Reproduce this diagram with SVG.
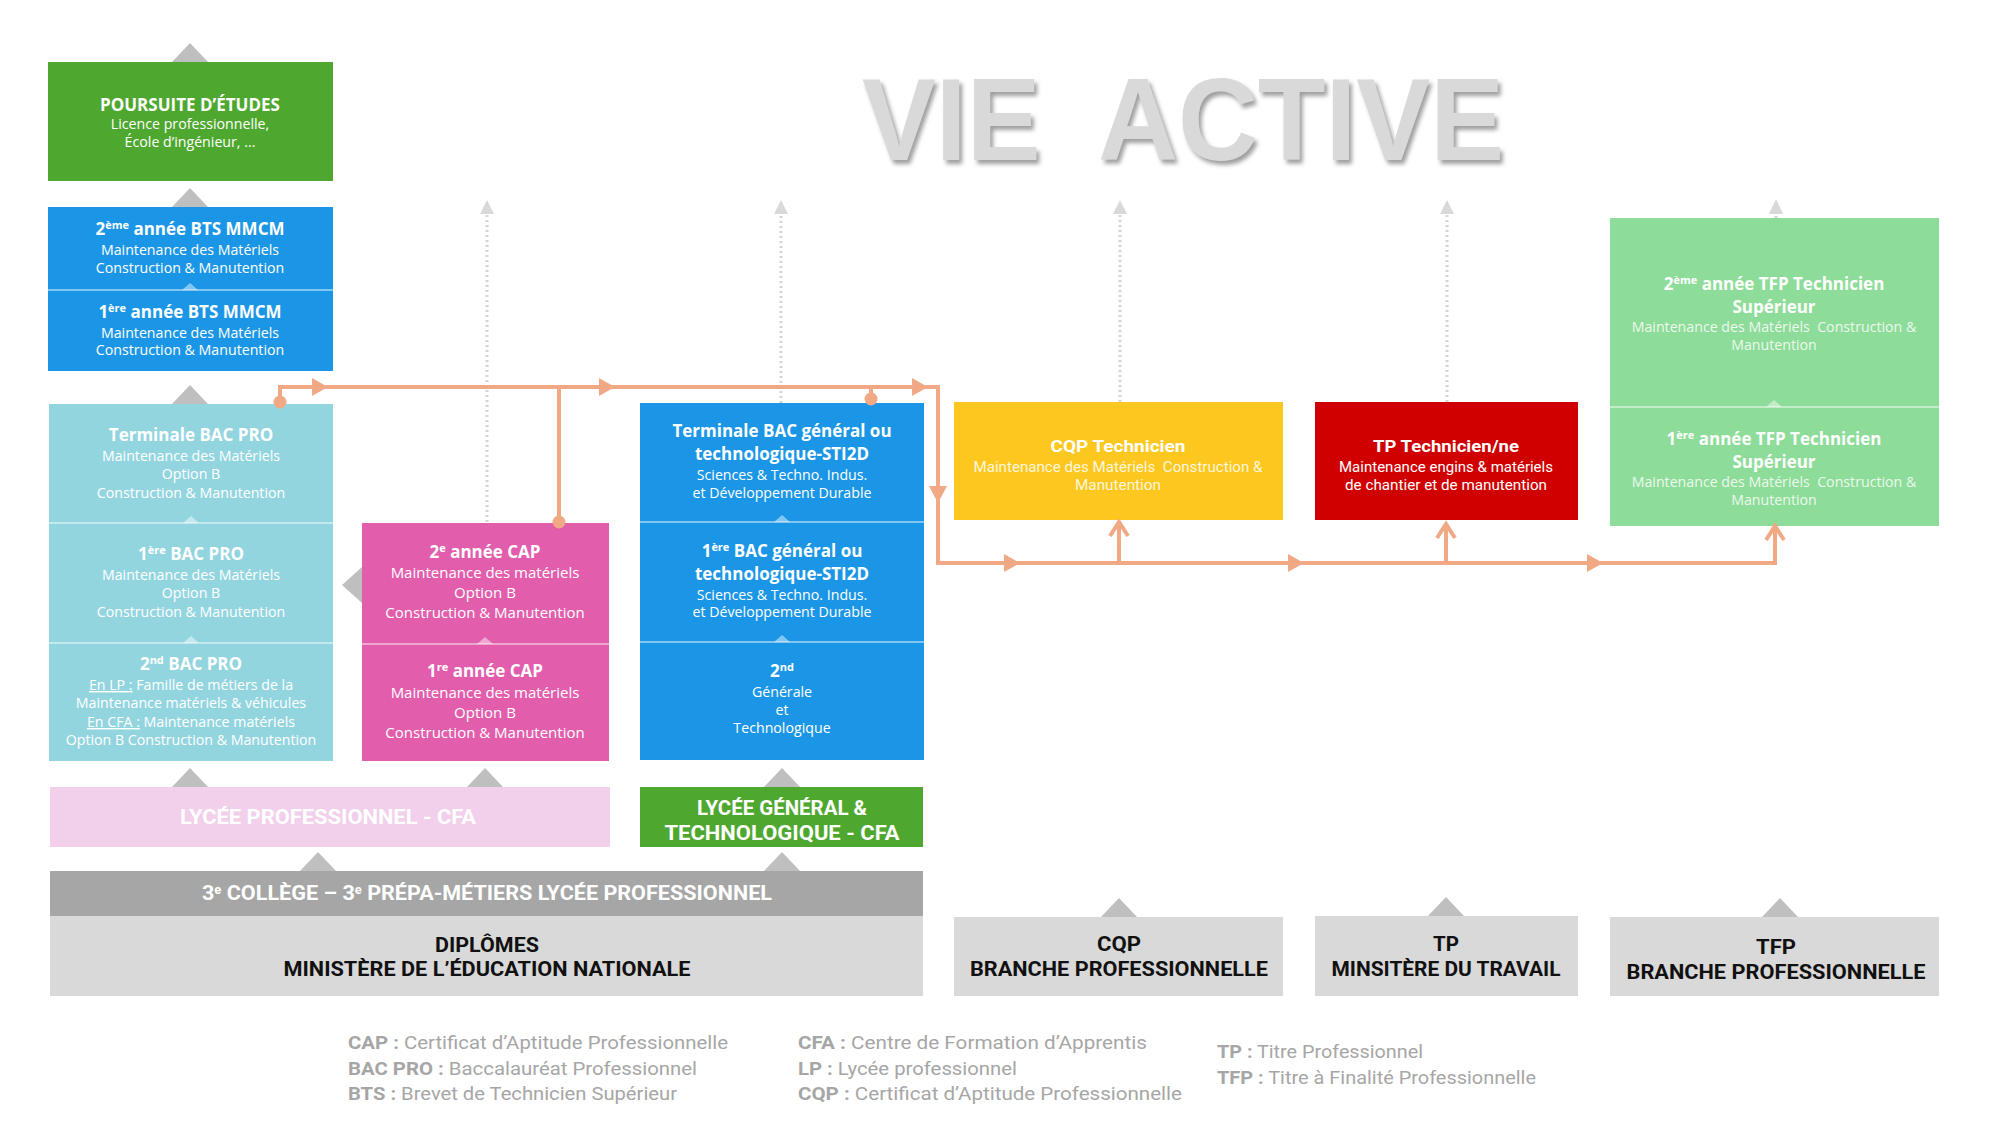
<svg xmlns="http://www.w3.org/2000/svg" width="2000" height="1125" viewBox="0 0 2000 1125">
<defs>
<style>
.t{font-family:"Open Sans","Liberation Sans",sans-serif;fill:#fff;text-anchor:middle}
.h{font-weight:700;font-size:17px}
.b{font-size:14.2px}
.c{font-size:15px}
.n{font-family:Roboto,"Liberation Sans",sans-serif;text-anchor:middle}
.nb{font-weight:700;font-size:20px}
.lg{font-family:Roboto,"Liberation Sans",sans-serif;font-size:19px;fill:#a6a6a6}
.tri{fill:#bfbfbf}
.lt{fill:#fff;fill-opacity:0.45}
.dv{stroke:#fff;stroke-opacity:0.45;stroke-width:2}
.or{stroke:#f1a985;stroke-width:4;fill:none}
.orf{fill:#f1a985}
.dot{stroke:#d4d4d4;stroke-width:3;stroke-dasharray:2 3;fill:none}
.dh{fill:#d9d9d9}
</style>
<filter id="sh" x="-5%" y="-10%" width="110%" height="130%">
<feDropShadow dx="3" dy="4" stdDeviation="2" flood-color="#7f7f7f" flood-opacity="0.75"/>
</filter>
</defs>
<rect width="2000" height="1125" fill="#fff"/>

<!-- Title -->
<text x="1183" y="160" font-family="'Liberation Sans',Arial,sans-serif" font-weight="700" font-size="116" fill="#d9d9d9" text-anchor="middle" textLength="642" lengthAdjust="spacingAndGlyphs" filter="url(#sh)">VIE&#160; ACTIVE</text>

<!-- gray triangles -->
<g id="chevrons">
<polygon class="tri" points="172,62 190,43 208,62"/>
<polygon class="tri" points="172,207 190,188 208,207"/>
<polygon class="tri" points="172,404 190,385 208,404"/>
<polygon class="tri" points="172,787 190,768 208,787"/>
<polygon class="tri" points="467,787 485,768 503,787"/>
<polygon class="tri" points="764,787 782,768 800,787"/>
<polygon class="tri" points="300,871 318,852 336,871"/>
<polygon class="tri" points="764,871 782,852 800,871"/>
<polygon class="tri" points="1101,917 1119,898 1137,917"/>
<polygon class="tri" points="1428,916 1446,897 1464,916"/>
<polygon class="tri" points="1762,917 1780,898 1798,917"/>
<polygon class="tri" points="342,585 362,567 362,603"/>
</g>

<g id="poursuite">
<rect x="48" y="62" width="285" height="119" fill="#4ea72e"/>
<text class="t h" x="190" y="111">POURSUITE D’ÉTUDES</text>
<text class="t b" x="190" y="129">Licence professionnelle,</text>
<text class="t b" x="190" y="147">École d’ingénieur, ...</text>
</g>

<g id="bts">
<rect x="48" y="207" width="285" height="164" fill="#1b96e6"/>
<line class="dv" x1="48" y1="290" x2="333" y2="290"/>
<polygon class="lt" points="182,290 190,283 198,290"/>
<text class="t h" x="190" y="235">2<tspan dy="-6" font-size="11">ème</tspan><tspan dy="6"> année BTS MMCM</tspan></text>
<text class="t b" x="190" y="255">Maintenance des Matériels</text>
<text class="t b" x="190" y="273">Construction &amp; Manutention</text>
<text class="t h" x="190" y="318">1<tspan dy="-6" font-size="11">ère</tspan><tspan dy="6"> année BTS MMCM</tspan></text>
<text class="t b" x="190" y="338">Maintenance des Matériels</text>
<text class="t b" x="190" y="355">Construction &amp; Manutention</text>
</g>

<g id="bacpro">
<rect x="49" y="404" width="284" height="357" fill="#93d5df"/>
<line class="dv" x1="49" y1="523" x2="333" y2="523"/>
<line class="dv" x1="49" y1="643" x2="333" y2="643"/>
<polygon class="lt" points="183,523 191,516 199,523"/>
<polygon class="lt" points="183,643 191,636 199,643"/>
<text class="t h" x="191" y="441">Terminale BAC PRO</text>
<text class="t b" x="191" y="461">Maintenance des Matériels</text>
<text class="t b" x="191" y="479">Option B</text>
<text class="t b" x="191" y="498">Construction &amp; Manutention</text>
<text class="t h" x="191" y="560">1<tspan dy="-6" font-size="11">ère</tspan><tspan dy="6"> BAC PRO</tspan></text>
<text class="t b" x="191" y="580">Maintenance des Matériels</text>
<text class="t b" x="191" y="598">Option B</text>
<text class="t b" x="191" y="617">Construction &amp; Manutention</text>
<text class="t h" x="191" y="670">2<tspan dy="-6" font-size="11">nd</tspan><tspan dy="6"> BAC PRO</tspan></text>
<text class="t b" x="191" y="690"><tspan text-decoration="underline">En LP :</tspan> Famille de métiers de la</text>
<text class="t b" x="191" y="708">Maintenance matériels &amp; véhicules</text>
<text class="t b" x="191" y="727"><tspan text-decoration="underline">En CFA :</tspan> Maintenance matériels</text>
<text class="t b" x="191" y="745">Option B Construction &amp; Manutention</text>
</g>

<g id="cap">
<rect x="362" y="523" width="247" height="238" fill="#e25dac"/>
<line class="dv" x1="362" y1="644" x2="609" y2="644"/>
<polygon class="lt" points="477,644 485,637 493,644"/>
<text class="t h" x="485" y="558">2<tspan dy="-6" font-size="11">e</tspan><tspan dy="6"> année CAP</tspan></text>
<text class="t c" x="485" y="578">Maintenance des matériels</text>
<text class="t c" x="485" y="598">Option B</text>
<text class="t c" x="485" y="618">Construction &amp; Manutention</text>
<text class="t h" x="485" y="677">1<tspan dy="-6" font-size="11">re</tspan><tspan dy="6"> année CAP</tspan></text>
<text class="t c" x="485" y="698">Maintenance des matériels</text>
<text class="t c" x="485" y="718">Option B</text>
<text class="t c" x="485" y="738">Construction &amp; Manutention</text>
</g>

<g id="sti2d">
<rect x="640" y="403" width="284" height="357" fill="#1b96e6"/>
<line class="dv" x1="640" y1="522" x2="924" y2="522"/>
<line class="dv" x1="640" y1="642" x2="924" y2="642"/>
<polygon class="lt" points="774,522 782,515 790,522"/>
<polygon class="lt" points="774,642 782,635 790,642"/>
<text class="t h" x="782" y="437">Terminale BAC général ou</text>
<text class="t h" x="782" y="460">technologique-STI2D</text>
<text class="t b" x="782" y="480">Sciences &amp; Techno. Indus.</text>
<text class="t b" x="782" y="498">et Développement Durable</text>
<text class="t h" x="782" y="557">1<tspan dy="-6" font-size="11">ère</tspan><tspan dy="6"> BAC général ou</tspan></text>
<text class="t h" x="782" y="580">technologique-STI2D</text>
<text class="t b" x="782" y="600">Sciences &amp; Techno. Indus.</text>
<text class="t b" x="782" y="617">et Développement Durable</text>
<text class="t h" x="782" y="677">2<tspan dy="-6" font-size="11">nd</tspan></text>
<text class="t b" x="782" y="697">Générale</text>
<text class="t b" x="782" y="715">et</text>
<text class="t b" x="782" y="733">Technologique</text>
</g>

<g id="lp-cfa">
<rect x="50" y="787" width="560" height="60" fill="#f2cfeb"/>
<text class="n nb" x="328" y="824" fill="#fff" textLength="296" lengthAdjust="spacingAndGlyphs">LYCÉE PROFESSIONNEL - CFA</text>
</g>

<g id="lgt-cfa">
<rect x="640" y="787" width="283" height="60" fill="#4ea72e"/>
<text class="n nb" x="782" y="815" fill="#fff" textLength="170" lengthAdjust="spacingAndGlyphs">LYCÉE GÉNÉRAL &amp;</text>
<text class="n nb" x="782" y="840" fill="#fff" textLength="235" lengthAdjust="spacingAndGlyphs">TECHNOLOGIQUE - CFA</text>
</g>

<g id="college">
<rect x="50" y="871" width="873" height="45" fill="#a6a6a6"/>
<text class="n nb" x="487" y="900" fill="#fff" textLength="570" lengthAdjust="spacingAndGlyphs">3<tspan dy="-6" font-size="12">e</tspan><tspan dy="6"> COLLÈGE – 3</tspan><tspan dy="-6" font-size="12">e</tspan><tspan dy="6"> PRÉPA-MÉTIERS LYCÉE PROFESSIONNEL</tspan></text>
</g>

<g id="diplomes">
<rect x="50" y="916" width="873" height="80" fill="#d9d9d9"/>
<text class="n nb" x="487" y="952" fill="#111" textLength="104" lengthAdjust="spacingAndGlyphs">DIPLÔMES</text>
<text class="n nb" x="487" y="976" fill="#111" textLength="407" lengthAdjust="spacingAndGlyphs">MINISTÈRE DE L’ÉDUCATION NATIONALE</text>
</g>

<g id="cqp">
<rect x="954" y="402" width="329" height="118" fill="#fcc81f"/>
<text class="n" x="1118" y="452" fill="#fff" font-weight="700" font-size="17" textLength="135" lengthAdjust="spacingAndGlyphs">CQP Technicien</text>
<text class="n" x="1118" y="472" fill="#fff" fill-opacity="0.85" font-size="15" textLength="289" lengthAdjust="spacingAndGlyphs">Maintenance des Matériels&#160; Construction &amp;</text>
<text class="n" x="1118" y="490" fill="#fff" fill-opacity="0.85" font-size="15" textLength="86" lengthAdjust="spacingAndGlyphs">Manutention</text>
</g>

<g id="tp">
<rect x="1315" y="402" width="263" height="118" fill="#d00000"/>
<text class="n" x="1446" y="452" fill="#fff" font-weight="700" font-size="17" textLength="146" lengthAdjust="spacingAndGlyphs">TP Technicien/ne</text>
<text class="n" x="1446" y="472" fill="#fff" font-size="15" textLength="214" lengthAdjust="spacingAndGlyphs">Maintenance engins &amp; matériels</text>
<text class="n" x="1446" y="490" fill="#fff" font-size="15" textLength="202" lengthAdjust="spacingAndGlyphs">de chantier et de manutention</text>
</g>

<g id="tfp">
<rect x="1610" y="218" width="329" height="308" fill="#8edc99"/>
<line class="dv" x1="1610" y1="407" x2="1939" y2="407"/>
<polygon class="lt" points="1766,407 1774,400 1782,407"/>
<text class="t h" x="1774" y="290">2<tspan dy="-6" font-size="11">ème</tspan><tspan dy="6"> année TFP Technicien</tspan></text>
<text class="t h" x="1774" y="313">Supérieur</text>
<text class="t b" x="1774" y="332" fill-opacity="0.85">Maintenance des Matériels&#160; Construction &amp;</text>
<text class="t b" x="1774" y="350" fill-opacity="0.85">Manutention</text>
<text class="t h" x="1774" y="445">1<tspan dy="-6" font-size="11">ère</tspan><tspan dy="6"> année TFP Technicien</tspan></text>
<text class="t h" x="1774" y="468">Supérieur</text>
<text class="t b" x="1774" y="487" fill-opacity="0.85">Maintenance des Matériels&#160; Construction &amp;</text>
<text class="t b" x="1774" y="505" fill-opacity="0.85">Manutention</text>
</g>

<g id="cqp-branche">
<rect x="954" y="917" width="329" height="79" fill="#d9d9d9"/>
<text class="n nb" x="1119" y="951" fill="#111" textLength="44" lengthAdjust="spacingAndGlyphs">CQP</text>
<text class="n nb" x="1119" y="976" fill="#111" textLength="298" lengthAdjust="spacingAndGlyphs">BRANCHE PROFESSIONNELLE</text>
</g>

<g id="tp-ministere">
<rect x="1315" y="916" width="263" height="80" fill="#d9d9d9"/>
<text class="n nb" x="1446" y="951" fill="#111" textLength="26" lengthAdjust="spacingAndGlyphs">TP</text>
<text class="n nb" x="1446" y="976" fill="#111" textLength="229" lengthAdjust="spacingAndGlyphs">MINSITÈRE DU TRAVAIL</text>
</g>

<g id="tfp-branche">
<rect x="1610" y="917" width="329" height="79" fill="#d9d9d9"/>
<text class="n nb" x="1776" y="954" fill="#111" textLength="40" lengthAdjust="spacingAndGlyphs">TFP</text>
<text class="n nb" x="1776" y="979" fill="#111" textLength="299" lengthAdjust="spacingAndGlyphs">BRANCHE PROFESSIONNELLE</text>
</g>

<g id="connectors">
<line class="dot" x1="487" y1="522" x2="487" y2="212"/>
<polygon class="dh" points="480,214 487,200 494,214"/>
<line class="dot" x1="781" y1="403" x2="781" y2="212"/>
<polygon class="dh" points="774,214 781,200 788,214"/>
<line class="dot" x1="1120" y1="402" x2="1120" y2="212"/>
<polygon class="dh" points="1113,214 1120,200 1127,214"/>
<line class="dot" x1="1447" y1="402" x2="1447" y2="212"/>
<polygon class="dh" points="1440,214 1447,200 1454,214"/>
<polygon class="dh" points="1769,214 1776,199 1783,214"/>
<line class="dot" x1="1776" y1="218" x2="1776" y2="212"/>
<path class="or" d="M280,402 V387 H938 V563 H1775 V524"/>
<path class="or" d="M559,522 V387"/>
<path class="or" d="M871,399 V387"/>
<path class="or" d="M1119,563 V522"/>
<path class="or" d="M1446,563 V524"/>
<polyline class="or" points="1110,536 1119,522 1128,536"/>
<polyline class="or" points="1437,538 1446,524 1455,538"/>
<polyline class="or" points="1766,540 1775,526 1784,540"/>
<circle class="orf" cx="280" cy="402" r="6.5"/>
<circle class="orf" cx="559" cy="522" r="6.5"/>
<circle class="orf" cx="871" cy="399" r="6.5"/>
<polygon class="orf" points="312,378 328,387 312,396"/>
<polygon class="orf" points="599,378 615,387 599,396"/>
<polygon class="orf" points="912,378 928,387 912,396"/>
<polygon class="orf" points="929,486 947,486 938,503"/>
<polygon class="orf" points="1004,554 1020,563 1004,572"/>
<polygon class="orf" points="1288,554 1304,563 1288,572"/>
<polygon class="orf" points="1587,554 1603,563 1587,572"/>
</g>

<g id="legend">
<text class="lg" x="348" y="1049" textLength="380" lengthAdjust="spacingAndGlyphs"><tspan font-weight="700">CAP :</tspan> Certificat d’Aptitude Professionnelle</text>
<text class="lg" x="348" y="1075" textLength="349" lengthAdjust="spacingAndGlyphs"><tspan font-weight="700">BAC PRO :</tspan> Baccalauréat Professionnel</text>
<text class="lg" x="348" y="1100" textLength="329" lengthAdjust="spacingAndGlyphs"><tspan font-weight="700">BTS :</tspan> Brevet de Technicien Supérieur</text>
<text class="lg" x="798" y="1049" textLength="349" lengthAdjust="spacingAndGlyphs"><tspan font-weight="700">CFA :</tspan> Centre de Formation d’Apprentis</text>
<text class="lg" x="798" y="1075" textLength="219" lengthAdjust="spacingAndGlyphs"><tspan font-weight="700">LP :</tspan> Lycée professionnel</text>
<text class="lg" x="798" y="1100" textLength="384" lengthAdjust="spacingAndGlyphs"><tspan font-weight="700">CQP :</tspan> Certificat d’Aptitude Professionnelle</text>
<text class="lg" x="1217" y="1058" textLength="206" lengthAdjust="spacingAndGlyphs"><tspan font-weight="700">TP :</tspan> Titre Professionnel</text>
<text class="lg" x="1217" y="1084" textLength="319" lengthAdjust="spacingAndGlyphs"><tspan font-weight="700">TFP :</tspan> Titre à Finalité Professionnelle</text>
</g>
</svg>
